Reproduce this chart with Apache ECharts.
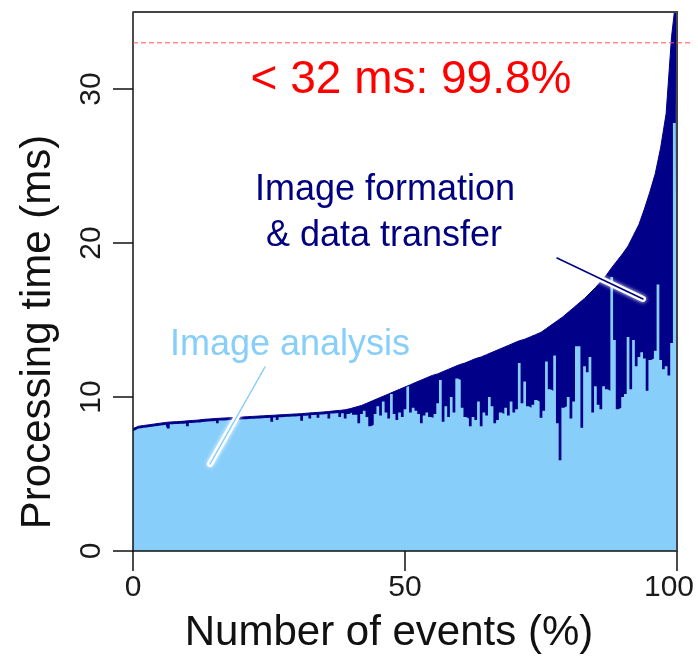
<!DOCTYPE html>
<html>
<head>
<meta charset="utf-8">
<script src="https://cdn.jsdelivr.net/npm/echarts@6/dist/echarts.min.js"></script>
<style>
  html, body { margin: 0; padding: 0; background: #ffffff; }
  #chart { width: 698px; height: 657px; }
</style>
</head>
<body>
<div id="chart"></div>
<script>
// Total processing time per event (ms), events sorted, sampled every 1 % of events
const totalMs = [
  7.95, 8.1, 8.15, 8.2, 8.25, 8.3, 8.35, 8.38, 8.4, 8.42,
  8.45, 8.48, 8.5, 8.55, 8.57, 8.6, 8.62, 8.64, 8.66, 8.68,
  8.7, 8.72, 8.74, 8.76, 8.78, 8.8, 8.82, 8.84, 8.86, 8.88,
  8.9, 8.92, 8.95, 8.98, 9.0, 9.03, 9.06, 9.1, 9.13, 9.17,
  9.25, 9.35, 9.45, 9.6, 9.75, 9.9, 10.05, 10.2, 10.35, 10.5,
  10.65, 10.8, 10.95, 11.1, 11.25, 11.4, 11.5, 11.65, 11.8, 11.95,
  12.1, 12.2, 12.35, 12.5, 12.6, 12.75, 12.9, 13.05, 13.2, 13.35,
  13.5, 13.65, 13.75, 13.9, 14.05, 14.2, 14.45, 14.7, 14.95, 15.2,
  15.5, 15.8, 16.1, 16.4, 16.75, 17.1, 17.5, 17.9, 18.4, 18.85,
  19.3, 19.8, 20.5, 21.2, 22.2, 23.3, 24.5, 26.2, 28.4, 33.4,
  36.5
];

// Image-analysis share of the processing time (ms), sampled every 0.5 % of events
const analysisMs = [
  7.8, 7.85, 7.95, 7.97, 8.0, 8.02, 8.05, 8.07, 8.1, 8.12,
  8.15, 8.17, 8.2, 7.95, 8.23, 8.24, 8.25, 8.26, 8.27, 8.28,
  8.1, 8.31, 8.33, 8.34, 8.35, 8.37, 8.4, 8.41, 8.42, 8.43,
  8.45, 8.3, 8.47, 8.48, 8.49, 8.5, 8.51, 8.52, 8.53, 8.54,
  8.55, 8.56, 8.57, 8.58, 8.59, 8.6, 8.61, 8.62, 8.63, 8.64,
  8.65, 8.4, 8.67, 8.5, 8.69, 8.7, 8.71, 8.72, 8.73, 8.74,
  8.75, 8.76, 8.45, 8.78, 8.8, 8.6, 8.83, 8.84, 8.65, 8.87,
  8.88, 8.9, 8.6, 8.93, 8.95, 8.96, 8.7, 8.95, 8.6, 8.9,
  9.0, 8.85, 8.85, 8.3, 8.9, 9.1, 8.7, 8.1, 8.2, 8.9,
  9.4, 8.8, 9.7, 9.0, 8.6, 10.2, 8.9, 8.5, 9.0, 8.7,
  9.2, 10.7, 9.0, 9.3, 9.1, 8.9, 8.3, 8.8, 9.0, 8.7,
  8.65, 8.9, 9.6, 11.1, 8.4, 9.4, 8.7, 10.0, 9.0, 11.2,
  11.1, 9.3, 8.7, 8.6, 8.1, 8.7, 8.5, 9.7, 8.1, 9.0,
  8.8, 10.0, 9.4, 8.3, 8.5, 9.0, 8.9, 9.3, 8.8, 9.7,
  9.0, 9.2, 12.2, 9.6, 11.0, 9.4, 9.3, 9.5, 9.8, 9.7,
  8.65, 9.1, 12.3, 10.5, 10.4, 12.7, 8.3, 5.9, 9.3, 9.4,
  10.0, 8.6, 9.7, 13.3, 13.3, 8.0, 12.0, 11.6, 12.6, 9.0,
  10.7, 9.5, 9.2, 10.7, 10.5, 10.4, 17.8, 13.7, 9.2, 9.3,
  10.0, 10.2, 13.9, 10.5, 13.7, 12.0, 12.6, 12.9, 12.5, 10.4,
  12.4, 12.5, 13.0, 17.3, 12.4, 11.8, 12.0, 11.4, 13.5, 27.8,
  31.5
];

const totalStepPct = 1;
const analysisStepPct = 0.5;
const xTicks = [0, 50, 100];
const yTicks = [0, 10, 20, 30];
const limitMs = 33;

const FONT = "'Liberation Sans', Arial, Helvetica, sans-serif";
const NAVY = '#000088';
const SKY = '#87cefa';

const chart = echarts.init(document.getElementById('chart'), null, { renderer: 'canvas' });

const totalData = totalMs.map((v, i) => [i * totalStepPct, v]);
const analysisData = analysisMs.map((v, i) => [i * analysisStepPct, v]);

chart.setOption({
  animation: false,
  backgroundColor: '#ffffff',
  grid: { left: 133, right: 21, top: 12, bottom: 106, containLabel: false, outerBoundsMode: 'none' },
  xAxis: {
    type: 'value', min: 0, max: 100, interval: 50, z: 10,
    axisLine: { show: true, onZero: false, lineStyle: { color: '#111', width: 1.5 } },
    axisTick: { show: true, length: 20, customValues: xTicks, lineStyle: { color: '#111', width: 1.5 } },
    axisLabel: {
      customValues: xTicks, fontSize: 30, color: '#1a1a1a', margin: 22, fontFamily: FONT,
      // keep the last label inside the canvas edge
      formatter: v => (v === xTicks[xTicks.length - 1] ? '{edge|' + v + '}' : String(v)),
      rich: { edge: { fontSize: 30, fontFamily: FONT, color: '#1a1a1a', padding: [0, 16, 0, 0] } }
    },
    splitLine: { show: false }
  },
  yAxis: {
    type: 'value', min: 0, max: 35, interval: 10, z: 10,
    axisLine: { show: true, onZero: false, lineStyle: { color: '#111', width: 1.5 } },
    axisTick: { show: true, length: 20, customValues: yTicks, lineStyle: { color: '#111', width: 1.5 } },
    axisLabel: { customValues: yTicks, rotate: 90, fontSize: 30, color: '#1a1a1a', margin: 26, fontFamily: FONT },
    splitLine: { show: false }
  },
  series: [
    {
      name: 'Total', type: 'line', data: totalData, symbol: 'none', clip: true,
      lineStyle: { color: NAVY, width: 1 },
      areaStyle: { color: NAVY, opacity: 1 }
    },
    {
      name: 'Image analysis', type: 'line', data: analysisData, symbol: 'none', step: 'middle', clip: true,
      lineStyle: { width: 0, color: SKY },
      areaStyle: { color: SKY, opacity: 1 }
    }
  ]
});

// Frame, limit line and annotations
const tl = chart.convertToPixel({ gridIndex: 0 }, [0, 35]);
const tr = chart.convertToPixel({ gridIndex: 0 }, [100, 35]);
const br = chart.convertToPixel({ gridIndex: 0 }, [100, 0]);
const limY = chart.convertToPixel({ yAxisIndex: 0 }, limitMs);

function label(x, y, text, size, color, rot) {
  return {
    type: 'text', x: x, y: y, rotation: rot || 0, z: 100,
    style: { text: text, fontSize: size, fontFamily: FONT, fill: color, align: 'center', verticalAlign: 'middle' }
  };
}
function pointer(x1, y1, x2, y2, color) {
  return [
    { type: 'line', z: 98, shape: { x1: x1, y1: y1, x2: x2, y2: y2 },
      style: { stroke: '#ffffff', lineWidth: 6, lineCap: 'round', shadowBlur: 4, shadowColor: '#ffffff' } },
    { type: 'line', z: 99, shape: { x1: x1, y1: y1, x2: x2, y2: y2 },
      style: { stroke: color, lineWidth: 1.5, lineCap: 'round' } }
  ];
}

chart.setOption({
  graphic: [
    { type: 'polyline', z: 100, shape: { points: [tl, tr, br] },
      style: { stroke: '#444', lineWidth: 2, fill: null } },
    { type: 'line', z: 100, shape: { x1: tl[0], y1: limY, x2: 690, y2: limY },
      style: { stroke: '#ff5050', lineWidth: 1, lineDash: [5, 3] } },
    ...pointer(265, 367, 210, 464, SKY),
    ...pointer(557, 258, 643, 299, '#000080'),
    label(411, 80, '< 32 ms: 99.8%', 46, '#ff0000'),
    label(385, 190, 'Image formation', 36, '#000080'),
    label(384, 236, '& data transfer', 36, '#000080'),
    label(290, 345, 'Image analysis', 36, SKY),
    label(38, 332, 'Processing time (ms)', 42, '#111', Math.PI / 2),
    label(389, 633, 'Number of events (%)', 42, '#111')
  ]
});
</script>
</body>
</html>
